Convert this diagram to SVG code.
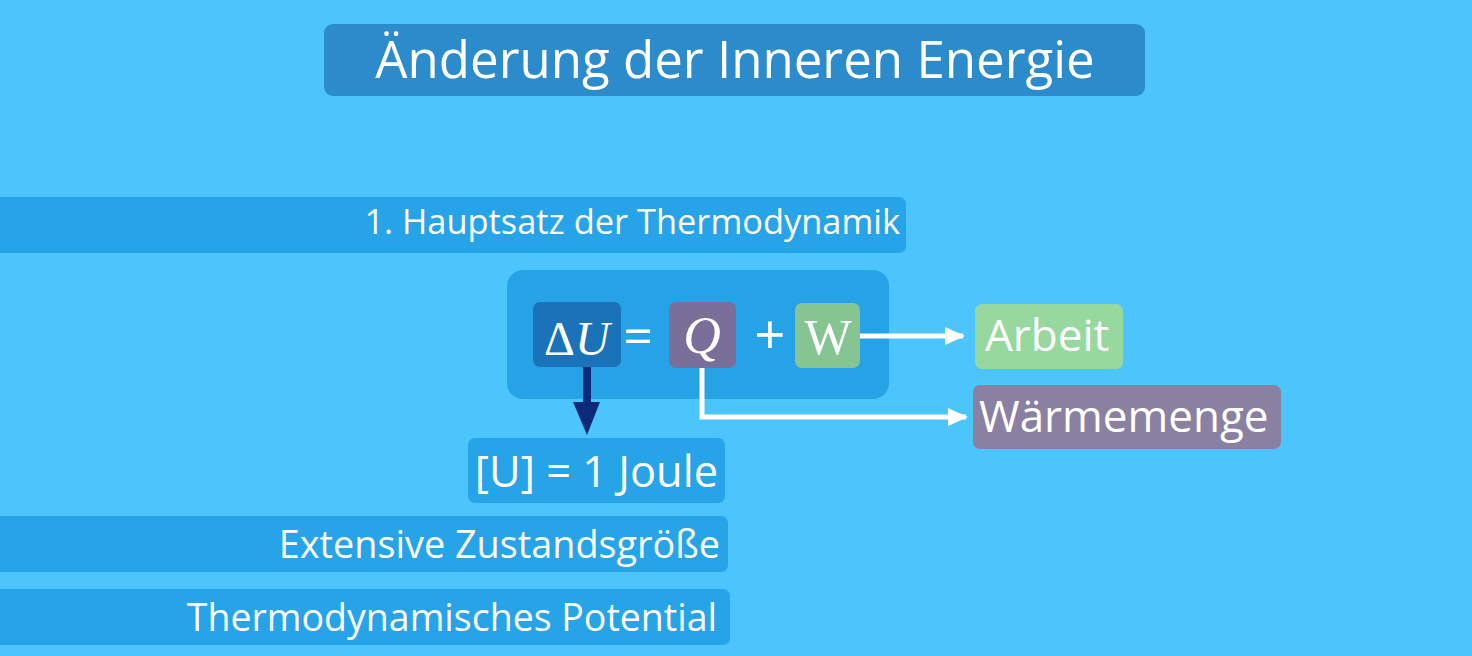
<svg xmlns="http://www.w3.org/2000/svg" width="1472" height="656" viewBox="0 0 1472 656">
<style>
.s{font-family:"Open Sans","Noto Sans","Liberation Sans",sans-serif;fill:#ffffff}
.m{font-family:"Liberation Serif","DejaVu Serif",serif;fill:#ffffff}
.bar{fill:#27a3e7}
</style>
<defs>
<marker id="wh" markerUnits="userSpaceOnUse" markerWidth="20" markerHeight="18" refX="18" refY="9" orient="auto"><path d="M0,0 L20,9 L0,18 Z" fill="#ffffff"/></marker>
</defs>
<rect x="0" y="0" width="1472" height="656" fill="#4cc4fc"/>
<g id="title">
<rect x="324" y="24" width="821" height="72" rx="9" fill="#2b8bcb"/>
<text class="s" x="735" y="78" font-size="51" text-anchor="middle">Änderung der Inneren Energie</text>
</g>
<g id="hauptsatz">
<rect class="bar" x="-10" y="197" width="916" height="56" rx="7"/>
<text class="s" x="900" y="234" font-size="34.4" text-anchor="end">1. Hauptsatz der Thermodynamik</text>
</g>
<g id="equation">
<rect x="507" y="270" width="382" height="129" rx="16" fill="#26a3e6"/>
<g id="dU">
<rect x="533" y="302" width="88" height="65" rx="7" fill="#1a72b8"/>
<text class="m" x="544" y="355" font-size="48">Δ<tspan font-style="italic">U</tspan></text>
</g>
<text class="s" x="638" y="354" font-size="52" text-anchor="middle">=</text>
<g id="Q">
<rect x="669" y="302" width="67" height="66" rx="7" fill="#7a6f99"/>
<text class="m" x="702" y="353" font-size="52" font-style="italic" text-anchor="middle">Q</text>
</g>
<text class="s" x="770" y="354" font-size="54" text-anchor="middle">+</text>
<g id="W">
<rect x="795" y="303" width="65" height="65" rx="7" fill="#86c591"/>
<text class="m" x="828" y="354" font-size="50" text-anchor="middle">W</text>
</g>
</g>
<g id="arbeit">
<rect x="975" y="304" width="148" height="65" rx="7" fill="#97d89f"/>
<text class="s" x="985" y="351" font-size="44">Arbeit</text>
</g>
<g id="waermemenge">
<rect x="973" y="385" width="308" height="64" rx="7" fill="#8a81a2"/>
<text class="s" x="979" y="432" font-size="44">Wärmemenge</text>
</g>
<g id="joule">
<rect class="bar" x="468" y="438" width="257" height="65" rx="7"/>
<text class="s" x="718" y="487" font-size="43.4" text-anchor="end">[U] = 1 Joule</text>
</g>
<g id="extensive">
<rect class="bar" x="-10" y="516" width="738" height="56" rx="7"/>
<text class="s" x="720" y="558" font-size="37.8" text-anchor="end">Extensive Zustandsgröße</text>
</g>
<g id="potential">
<rect class="bar" x="-10" y="589" width="740" height="56" rx="7"/>
<text class="s" x="717" y="631" font-size="37.5" text-anchor="end">Thermodynamisches Potential</text>
</g>
<g id="connectors">
<line x1="860" y1="336" x2="963" y2="336" stroke="#ffffff" stroke-width="5" marker-end="url(#wh)"/>
<polyline points="702,368 702,417 966,417" fill="none" stroke="#ffffff" stroke-width="5" marker-end="url(#wh)"/>
<line x1="587" y1="367" x2="587" y2="404" stroke="#0d2a7a" stroke-width="8"/>
<path d="M573,402 L600,402 L587,435 Z" fill="#0d2a7a"/>
</g>
</svg>
